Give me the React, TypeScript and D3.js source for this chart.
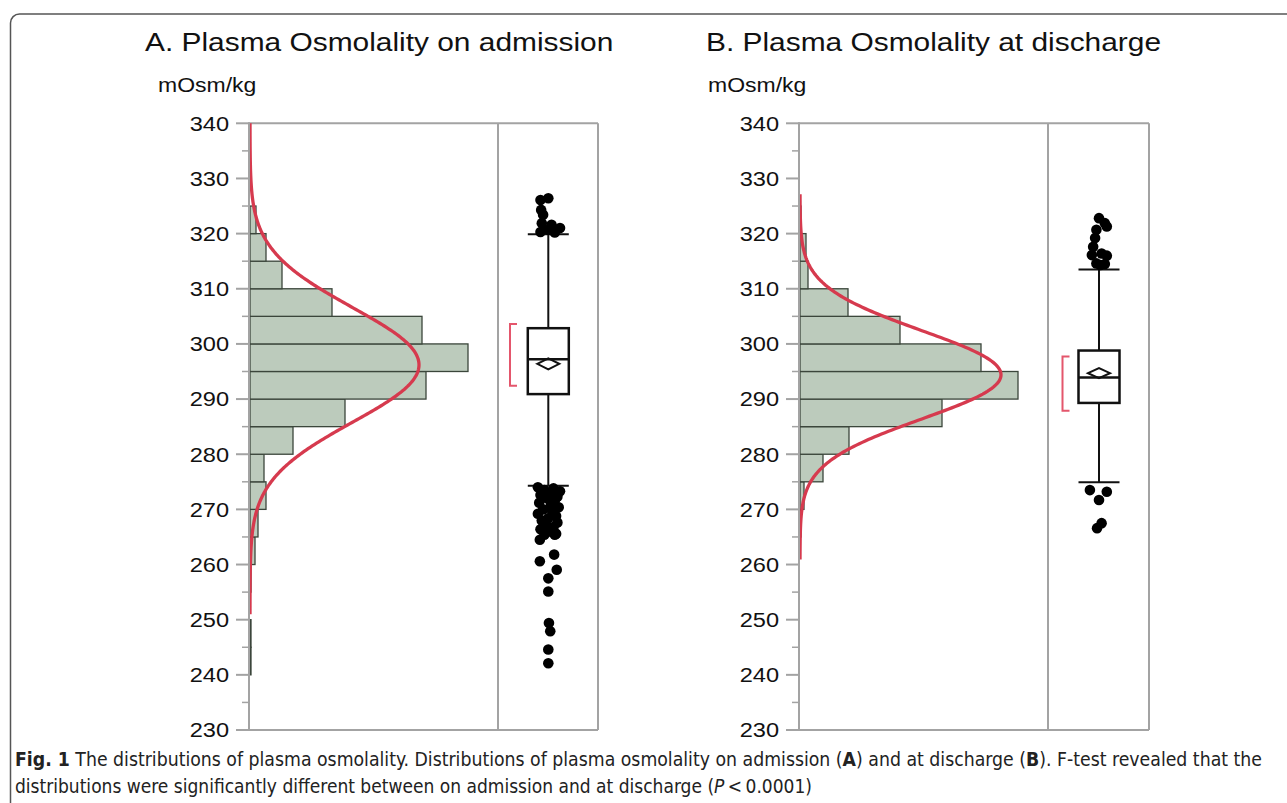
import React from 'react';
import * as d3 from 'd3';

// ---------- data ----------
const yTickLabels = [230, 240, 250, 260, 270, 280, 290, 300, 310, 320, 330, 340];
const yMinorTicks = [235, 245, 255, 265, 275, 285, 295, 305, 315, 325, 335];
const binWidth = 5;

// Panel A: admission
const binsA = [240, 245, 250, 255, 260, 265, 270, 275, 280, 285, 290, 295, 300, 305, 310, 315, 320];
const countsA = [1, 1, 0, 1, 5, 8, 16, 14, 43, 95, 176, 218, 172, 82, 32, 16, 6];
const fitA = { mean: 296.2, sd: 10.4, peak: 169, from: 251, to: 340 };
const boxA = { q1: 290.9, median: 297.2, q3: 302.85, lo: 274.3, hi: 319.9, mean: 296.4, ci: 1.0, shortLo: 292.4, shortHi: 303.6 };
const outA = [326.4, 326.1, 324.3, 323.4, 321.9, 321.6, 321.0, 320.7, 320.3, 320.2,
  274.0, 273.8, 273.5, 273.3, 273.0, 272.6, 272.3, 272.0, 271.6, 271.2, 270.8, 270.4, 270.0, 269.6, 269.2,
  268.8, 268.4, 268.0, 267.6, 267.2, 266.8, 266.4, 266.0, 265.6, 265.4,
  264.5, 265.4, 261.8, 260.6, 259.05, 257.5, 255.1, 249.4, 247.9, 244.6, 242.1];
const jitA = [0, -0.6, -0.55, -0.4, -0.5, 0.25, 0.9, 0, -0.6, 0.5,
  -0.8, 0.4, -0.3, 0.9, 0.1, -0.6, 0.7, -0.1, 0.5, -0.7, 0.2, 0.8, -0.4, 0.3, -0.8,
  0.6, 0, -0.5, 0.7, -0.2, 0.4, -0.6, 0.1, 0.6, -0.3,
  -0.65, 0.5, 0.45, -0.65, 0.65, 0, 0, 0.05, 0.15, 0, 0];

// Panel B: discharge
const binsB = [265, 270, 275, 280, 285, 290, 295, 300, 305, 310, 315, 320];
const countsB = [1, 4, 23, 49, 142, 218, 181, 100, 48, 8, 6, 1];
const fitB = { mean: 294.4, sd: 8.0, peak: 201, from: 260.9, to: 327.3 };
const boxB = { q1: 289.3, median: 293.9, q3: 298.8, lo: 274.9, hi: 313.5, mean: 294.7, ci: 0.9, shortLo: 287.9, shortHi: 297.7 };
const outB = [322.8, 321.9, 321.3, 320.7, 319.2, 317.6, 316.4, 316.1, 316.0, 314.6, 314.5, 314.3,
  273.5, 273.2, 271.7, 267.5, 266.6];
const jitB = [0, 0.45, 0.6, -0.2, -0.3, -0.45, 0.2, -0.55, 0.6, -0.2, 0.45, 0.1,
  -0.7, 0.6, 0, 0.2, -0.15];

const titles = ['A. Plasma Osmolality on admission', 'B. Plasma Osmolality at discharge'];
const unitLabel = 'mOsm/kg';

// ---------- layout ----------
const W = 1287;
const H = 803;
const yScale = d3.scaleLinear().domain([230, 340]).range([730, 123.3]);
const GRAY = '#a3a3a3';
const RED = '#d63a4e';
const SX = 1.15;
const FONT = 'Liberation Sans, Arial, sans-serif';

type PanelProps = {
  title: string; bins: number[]; counts: number[]; fit: typeof fitA; box: typeof boxA;
  out: number[]; jit: number[];
  axisX: number; divX: number; rightX: number; boxCX: number; bracketX: number;
  labelRight: number; titleX: number; unitX: number;
};

function Panel(p: PanelProps) {
  const x = d3.scaleLinear().domain([0, 248]).range([p.axisX + 1, p.divX]);
  const curvePts = d3.range(p.fit.from, p.fit.to + 0.001, 0.25).map((v) => [
    x(p.fit.peak * Math.exp(-((v - p.fit.mean) ** 2) / (2 * p.fit.sd ** 2))),
    yScale(v),
  ] as [number, number]);
  const line = d3.line();
  const bw = 20.5;
  const b = p.box;
  const cx = p.boxCX;
  const dw = 11;
  const jitUnit = 13;
  const top = yScale(340);
  const bot = yScale(230);
  return (
    <g>
      <text transform={`translate(${p.titleX},51) scale(${SX},1)`} fontSize={26} fontFamily={FONT} fill="#111">{p.title}</text>
      <text transform={`translate(${p.unitX},92) scale(${SX},1)`} fontSize={20} fontFamily={FONT} fill="#111">{unitLabel}</text>

      <line x1={p.axisX} x2={p.rightX} y1={top} y2={top} stroke={GRAY} strokeWidth={2} />
      <line x1={p.axisX} x2={p.rightX} y1={bot} y2={bot} stroke={GRAY} strokeWidth={2} />
      <line x1={p.divX} x2={p.divX} y1={top} y2={bot} stroke={GRAY} strokeWidth={2} />
      <line x1={p.rightX} x2={p.rightX} y1={top} y2={bot} stroke={GRAY} strokeWidth={2} />

      {p.bins.map((e, i) => p.counts[i] > 0 ? (
        <rect key={i} x={x(0)} y={yScale(e + binWidth)} width={x(p.counts[i]) - x(0)} height={yScale(e) - yScale(e + binWidth)}
          fill="#bccbbc" stroke="#3b463b" strokeWidth={1.3} />
      ) : null)}

      <path d={line(curvePts) || ''} fill="none" stroke={RED} strokeWidth={3.3} />

      <line x1={p.axisX} x2={p.axisX} y1={top - 1} y2={bot + 1} stroke={GRAY} strokeWidth={2} />
      {yTickLabels.map((t) => (
        <g key={t}>
          <line x1={p.axisX - 13} x2={p.axisX} y1={yScale(t)} y2={yScale(t)} stroke={GRAY} strokeWidth={2} />
          <text transform={`translate(${p.labelRight},${yScale(t) + 7.3}) scale(1.15,1)`} textAnchor="end" fontSize={20.5}
            fontFamily={FONT} fill="#111">{t}</text>
        </g>
      ))}
      {yMinorTicks.map((t) => (
        <line key={t} x1={p.axisX - 7} x2={p.axisX} y1={yScale(t)} y2={yScale(t)} stroke={GRAY} strokeWidth={1.5} />
      ))}

      <path d={`M${p.bracketX + 7},${yScale(b.shortHi)}H${p.bracketX}V${yScale(b.shortLo)}H${p.bracketX + 7}`}
        fill="none" stroke="#e4566c" strokeWidth={2} />

      <line x1={cx} x2={cx} y1={yScale(b.hi)} y2={yScale(b.lo)} stroke="#111" strokeWidth={2} />
      <line x1={cx - bw} x2={cx + bw} y1={yScale(b.hi)} y2={yScale(b.hi)} stroke="#111" strokeWidth={2} />
      <line x1={cx - bw} x2={cx + bw} y1={yScale(b.lo)} y2={yScale(b.lo)} stroke="#111" strokeWidth={2} />
      <rect x={cx - bw} y={yScale(b.q3)} width={2 * bw} height={yScale(b.q1) - yScale(b.q3)} fill="#fff" stroke="#111" strokeWidth={2.5} />
      <line x1={cx - bw} x2={cx + bw} y1={yScale(b.median)} y2={yScale(b.median)} stroke="#111" strokeWidth={2.5} />
      <path d={`M${cx - dw},${yScale(b.mean)}L${cx},${yScale(b.mean + b.ci)}L${cx + dw},${yScale(b.mean)}L${cx},${yScale(b.mean - b.ci)}Z`}
        fill="none" stroke="#111" strokeWidth={2} />

      {p.out.map((v, i) => (
        <circle key={i} cx={cx + p.jit[i] * jitUnit} cy={yScale(v)} r={5.3} fill="#000" />
      ))}
    </g>
  );
}

export default function App() {
  const capFont = '"Liberation Sans Narrow", "DejaVu Sans Condensed", "Roboto", sans-serif';
  return (
    <svg width={W} height={H} style={{ position: 'absolute', left: 0, top: 0, background: '#fff' }}>
      <rect x={0} y={0} width={W} height={H} fill="#fff" />
      <rect x={10.5} y={14} width={1300} height={820} rx={9} fill="none" stroke="#555" strokeWidth={1.5} />
      <Panel title={titles[0]} bins={binsA} counts={countsA} fit={fitA} box={boxA} out={outA} jit={jitA}
        axisX={249} divX={498} rightX={598} boxCX={548.3} bracketX={510} labelRight={229} titleX={145} unitX={158} />
      <Panel title={titles[1]} bins={binsB} counts={countsB} fit={fitB} box={boxB} out={outB} jit={jitB}
        axisX={799} divX={1048} rightX={1149} boxCX={1099} bracketX={1062.5} labelRight={779} titleX={706} unitX={708} />

      <text x={15} y={766} fontSize={19} fontFamily={capFont} fill="#222" textLength={1247} lengthAdjust="spacingAndGlyphs">
        <tspan fontWeight="bold">Fig. 1</tspan>
        <tspan>{'  The distributions of plasma osmolality. Distributions of plasma osmolality on admission ('}</tspan>
        <tspan fontWeight="bold">A</tspan>
        <tspan>{') and at discharge ('}</tspan>
        <tspan fontWeight="bold">B</tspan>
        <tspan>{'). F-test revealed that the'}</tspan>
      </text>
      <text x={15} y={793} fontSize={19} fontFamily={capFont} fill="#222" textLength={797} lengthAdjust="spacingAndGlyphs">
        <tspan>{'distributions were significantly different between on admission and at discharge ('}</tspan>
        <tspan fontStyle="italic">P</tspan>
        <tspan>{'\u2009<\u20090.0001)'}</tspan>
      </text>
    </svg>
  );
}
